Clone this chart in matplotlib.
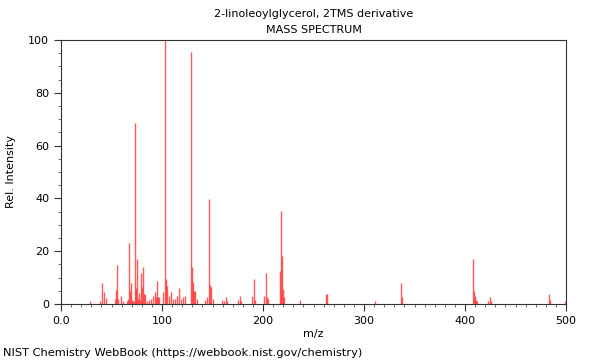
import matplotlib
matplotlib.use("Agg")
import matplotlib.pyplot as plt
from matplotlib.ticker import MultipleLocator, FuncFormatter

# peaks (m/z, relative intensity)
mz = [29, 39, 41, 43, 45, 53, 54, 55, 56, 59, 61, 65, 66, 67, 68, 69, 70, 71, 72,
      73, 74, 75, 76, 77, 78, 79, 80, 81, 82, 83, 85, 87, 89, 91, 93, 94, 95, 96,
      97, 101, 103, 104, 105, 107, 109, 111, 113, 115, 117, 119, 121, 123,
      129, 130, 131, 132, 133, 135, 143, 145, 147, 148, 149, 150, 159, 161, 163,
      164, 175, 177, 178, 189, 191, 192, 201, 203, 204, 205, 217, 218, 219, 220,
      221, 237, 262, 263, 311, 337, 338, 408, 409, 410, 411, 412, 423, 425, 426,
      483, 484, 499]
intensity = [1.3, 1.0, 7.8, 4.7, 2.1, 1.9, 5.4, 14.9, 1.8, 2.9, 1.0, 1.3, 2.0, 23.0,
             5.0, 7.8, 1.5, 1.0, 1.3, 68.7, 6.0, 17.0, 2.0, 4.0, 1.5, 11.6, 6.3, 14.1,
             3.8, 3.8, 1.0, 1.5, 1.9, 3.0, 4.4, 2.5, 8.6, 2.5, 2.5, 4.4, 100.0, 9.5,
             7.0, 2.9, 4.4, 2.0, 2.0, 2.9, 6.0, 2.0, 2.5, 3.0,
             95.6, 14.1, 8.2, 5.0, 5.0, 2.0, 1.5, 2.5, 39.8, 7.3, 6.3, 2.0, 1.5, 1.0,
             2.5, 1.0, 1.5, 2.9, 1.0, 2.9, 9.5, 1.5, 2.9, 11.6, 2.5, 2.0, 12.6, 35.4,
             18.0, 5.7, 2.5, 1.5, 3.8, 3.8, 1.0, 8.0, 2.5, 17.0, 5.0, 3.0, 1.7, 1.0,
             1.0, 2.5, 1.0, 3.8, 1.5, 1.0]

title = "2-linoleoylglycerol, 2TMS derivative\nMASS SPECTRUM"
source = "NIST Chemistry WebBook (https://webbook.nist.gov/chemistry)"

plt.rcParams["font.family"] = "DejaVu Sans"
plt.rcParams["font.size"] = 8

fig = plt.figure(figsize=(6, 3.6), dpi=100)
ax = fig.add_axes([61 / 600, 1 - 304 / 360, 505 / 600, 264 / 360])

ax.vlines(mz, 0, intensity, colors="#ff3030", linewidth=1.0, alpha=0.8)

ax.set_xlim(0, 500)
ax.set_ylim(0, 100)
ax.xaxis.set_major_locator(MultipleLocator(100))
ax.xaxis.set_minor_locator(MultipleLocator(10))
ax.yaxis.set_major_locator(MultipleLocator(20))
ax.yaxis.set_minor_locator(MultipleLocator(5))
ax.xaxis.set_major_formatter(FuncFormatter(lambda v, p: "0.0" if v == 0 else f"{v:.0f}"))
ax.tick_params(which="major", length=5, width=0.8, color="#333333", labelsize=8)
ax.tick_params(which="minor", length=2.5, width=0.6, color="#555555")
for s in ax.spines.values():
    s.set_color("#333333")
    s.set_linewidth(0.8)

ax.set_xlabel("m/z", fontsize=8, labelpad=2)
ax.set_ylabel("Rel. Intensity", fontsize=8, labelpad=9)
ax.set_title(title, fontsize=8, linespacing=1.8, pad=5)

fig.text(3 / 600, 1 - 358 / 360, source, fontsize=8.2, ha="left", va="bottom")

fig.savefig("out.png", dpi=100)
